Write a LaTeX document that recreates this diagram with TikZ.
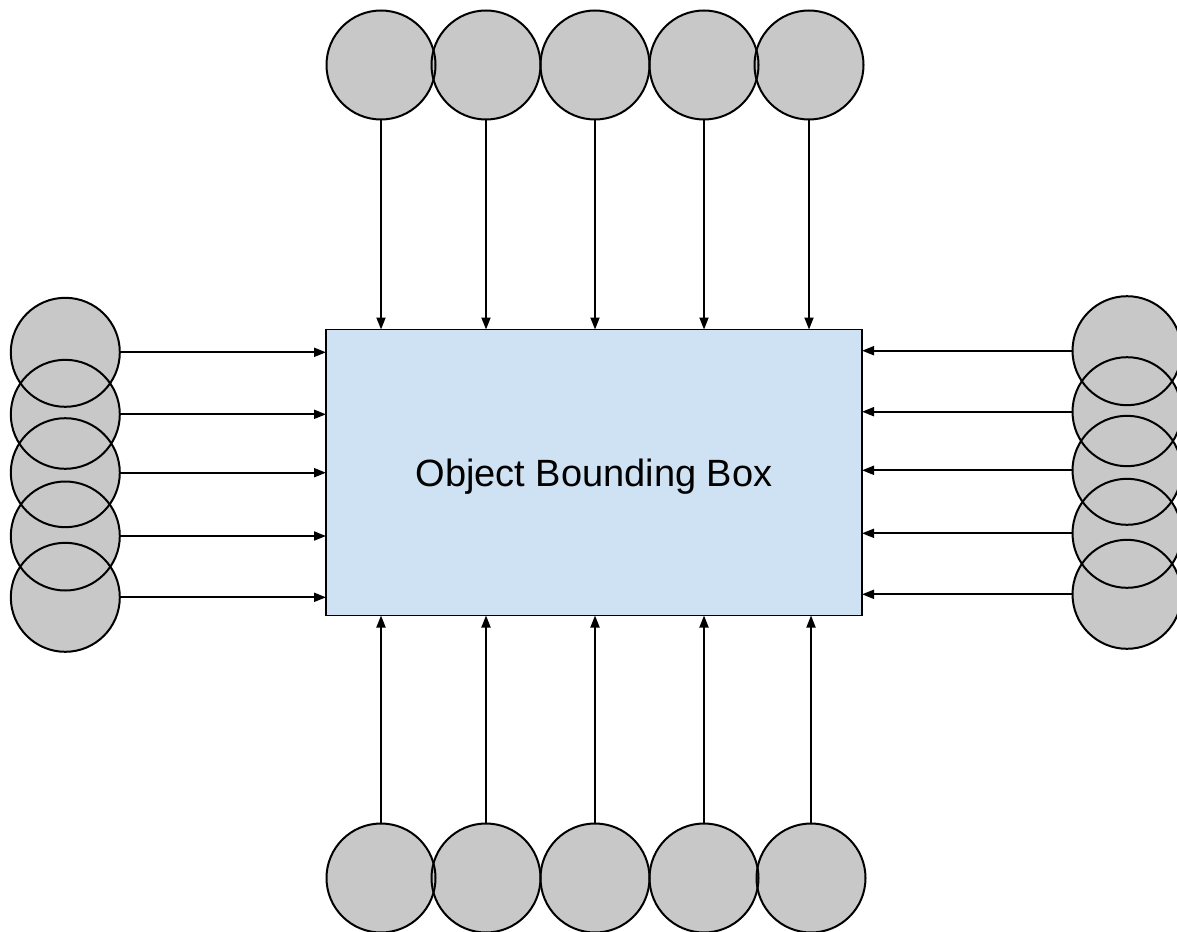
\documentclass[tikz,border=0pt]{standalone}
\usepackage{fontspec}
\setmainfont{Liberation Sans}
\usetikzlibrary{arrows.meta}
\definecolor{circfill}{HTML}{C8C8C8}
\definecolor{boxfill}{HTML}{CFE2F3}
\begin{document}
\begin{tikzpicture}[x=1pt,y=-1pt,
  blob/.style={circle,minimum size=109pt,inner sep=0pt,outer sep=0pt,fill=circfill,draw=none},
  rim/.style={line width=2pt},
  arr/.style={line width=1.8pt,-{Triangle[length=12pt,width=9pt]}},
  bbox/.style={draw,line width=1.6pt,fill=boxfill,minimum width=536pt,minimum height=286pt,inner sep=0pt,outer sep=0pt,text depth=0pt,font=\fontsize{38}{45}\selectfont}]
\useasboundingbox (0,0) rectangle (1177,931);
% circle fills
\foreach \x [count=\i] in {381,486,595,704,809} \node[blob] (t\i) at (\x,65) {};
\foreach \x [count=\i] in {381,486,595,704,811} \node[blob] (b\i) at (\x,878) {};
\foreach \y [count=\i] in {352.3,414.3,472.7,536,597.3} \node[blob] (l\i) at (65.3,\y) {};
\foreach \y [count=\i] in {350.7,411.7,470.3,533.3,594.3} \node[blob] (r\i) at (1127,\y) {};
% circle outlines on top of all fills
\foreach \s in {t,b,l,r} \foreach \i in {1,...,5} \draw[rim] (\s\i.center) circle[radius=54.5pt];
% box
\node[bbox] (box) at (594,472.5) {Object Bounding Box};
% connectors
\foreach \i in {1,...,5} {
  \draw[arr] (t\i.south) -- (t\i.south |- box.north);
  \draw[arr] (b\i.north) -- (b\i.north |- box.south);
  \draw[arr] (l\i.east) -- (l\i.east -| box.west);
  \draw[arr] (r\i.west) -- (r\i.west -| box.east);
}
\end{tikzpicture}
\end{document}
